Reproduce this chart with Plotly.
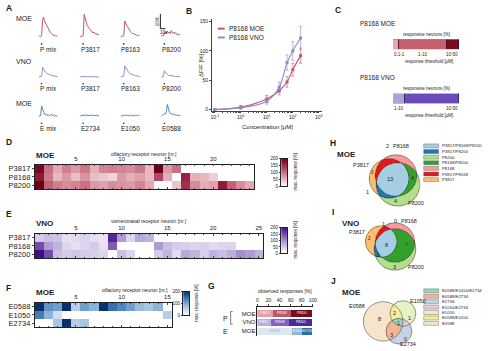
import numpy as np
import plotly.graph_objects as go

W, H = 500, 351
FONT = "Liberation Sans, Arial, sans-serif"
INK = "#222222"

# ======================= DATA =======================
# A: calcium imaging traces, dF/F [%], one sample every 2 s
sample_s = 2
a_moe_p_names = ["P mix", "P3817", "P8163", "P8200"]
a_moe_p_mix = [0, 0.3, -0.2, 0.5, 11, 13, 10.5, 9, 7.5, 6, 5, 3.5, 2.5, 1.8, 1.2, 0.8, 1, 0.3, 0.5, 0.2]
a_moe_p3817 = [0, 0.2, 0.1, 0.4, 15, 12.5, 9.5, 7.5, 6.5, 5.5, 4.5, 4, 3, 2.5, 3, 2, 1.5, 2, 1, 1.4]
a_moe_p8163 = [0, 0.3, 0, 0.5, 10.5, 8.5, 7.5, 6.5, 5, 4.5, 3.2, 2.5, 1.8, 2.2, 1.2, 1.4, 0.6, 1, 0.5, 0.8]
a_moe_p8200 = [0, 1, 0.4, 2, 3.2, 1.8, 3.6, 2.4, 3.1, 1.9, 4, 2.8, 2, 3.1, 2.4, 1.5, 2.1, 1, 1.6, 1]
a_vno_p_names = ["P mix", "P3817", "P8163", "P8200"]
a_vno_p_mix = [0, 0.2, 0.1, 0.5, 6.5, 5.2, 3.8, 3.1, 2.6, 2.1, 1.8, 1.5, 1.2, 1, 0.8, 0.6, 0.5, 0.4, 0.3, 0.2]
a_vno_p3817 = [0, 0.2, 0.1, 0.3, 0.2, 0.4, 0.3, 0.1, 0.2, 0.3, 0.1, 0.2, 0, 0.2, 0.1, 0.3, 0, 0.1, 0.2, 0]
a_vno_p8163 = [0, 0.1, 0.2, 0.5, 7.5, 6.2, 4.6, 3.6, 3, 2.5, 2.1, 1.8, 1.5, 1.2, 1, 0.8, 0.6, 0.5, 0.4, 0.3]
a_vno_p8200 = [0, 0.1, 0.3, 4.2, 3.1, 2.2, 1.6, 1.2, 1, 0.8, 0.6, 0.5, 0.5, 0.4, 0.3, 0.3, 0.2, 0.2, 0.1, 0.1]
a_moe_e_names = ["E mix", "E2734", "E1050", "E0588"]
a_moe_e_mix = [0, 0.3, 0.5, 7, 4.2, 3, 1.5, 1, 1.6, 0.5, 1, 0.3, 1, 1.5, 0.5, 0.8, 0.3, 0.5, 0.2, 0.4]
a_moe_e2734 = [0, 0.8, 0.2, 1, 0.5, 1.2, 0.3, 0.8, 1, 0.2, 0.9, 0.5, 1.1, 0.4, 0.8, 0.3, 1, 0.6, 0.2, 0.7]
a_moe_e1050 = [0, 0.6, 0.3, 0.9, 0.4, 1, 0.5, 0.7, 0.2, 0.9, 0.4, 1, 0.3, 0.6, 0.8, 0.3, 0.7, 0.4, 0.9, 0.5]
a_moe_e0588 = [0, 0.5, 1, 2, 1.5, 3, 8, 5, 3, 2, 1.5, 2, 1, 1.5, 0.8, 1, 0.5, 0.7, 0.4, 0.5]

# B: dose-response of P8168
b_conc_um = [0.1, 1, 10, 30, 60, 100, 200]
b_moe_mean = [0, 4, 18, 32, 47, 68, 92]
b_moe_sem = [1, 3, 6, 7, 9, 11, 13]
b_vno_mean = [0, 3, 14, 38, 80, 100, 122]
b_vno_sem = [1, 2, 5, 9, 13, 16, 20]
b_ticks = [0.1, 1, 10, 100, 1000]
b_ticktext = ["10<sup>-1</sup>", "10<sup>0</sup>", "10<sup>1</sup>", "10<sup>2</sup>", "10<sup>3</sup>"]

# C: response thresholds (responsive neurons %)
c_moe_bins = ["0.1-1", "1-10", "10-50"]
c_moe_pct = [9, 72, 19]
c_vno_bins = ["1-10", "10-50"]
c_vno_pct = [18, 82]

# D: MOE, max response [%] per olfactory receptor neuron (None = no response)
d_rows = ["P3817", "P8168", "P8200"]
d_p3817 = [190, 100, 60, 90, 70, 95, 55, 85, 90, 85, 80, 95, 50, 200, 70, 100, None, None, None, None, None, None, None, None]
d_p8168 = [170, 95, 50, 70, 45, 75, 45, 40, 30, 70, 55, 65, 50, 130, 55, None, 160, 55, 50, 35, None, None, None, None]
d_p8200 = [200, 110, 90, 80, 85, 100, 70, 65, 80, 75, 70, 85, 60, None, None, 40, 150, 80, 55, 65, 170, 110, 80, 60]

# E: VNO
e_rows = ["P3817", "P8168", "P8200"]
e_p3817 = [50, 60, 55, 30, 35, 40, 30, 25, 180, 90, 40, 80, 70, None, None, None, None, None, None, None, None, None, None, None, None]
e_p8168 = [150, 90, 70, 40, 30, 40, 50, 30, 140, None, None, None, None, 90, 60, 50, 45, 40, 45, 35, 40, 40, None, None, None]
e_p8200 = [220, 150, 60, 50, 55, 50, 45, 40, None, 60, 40, None, None, 50, 70, 35, 80, 70, 45, 70, 60, 75, 100, 90, 70]

# F: MOE, E-odorants
f_rows = ["E0588", "E1050", "E2734"]
f_e0588 = [200, 120, 110, 220, 60, 110, 90, 200, 150, 130, 110, 80, 70, 90, None]
f_e1050 = [140, 90, 40, None, None, None, None, None, None, None, None, None, None, None, 60]
f_e2734 = [None, None, 70, 230, 60, 70, None, None, None, None, None, None, None, None, None]

# G row labels
g_rows = ["MOE", "VNO", "MOE"]

# H / J legend colours by region code (bit1 = set A, bit2 = set B, bit4 = set C)
paired = {7: "#a6cee3", 5: "#1f78b4", 4: "#b2df8a", 6: "#33a02c", 2: "#fb9a99", 3: "#e31a1c", 1: "#fdbf6f"}
set3 = {7: "#96d4bf", 5: "#f5b492", 4: "#c4d4e7", 6: "#efc4de", 2: "#e4f2c6", 3: "#f6ee9e", 1: "#f6e4cc"}
legend_order = [7, 5, 4, 6, 2, 3, 1]

# ======================= HELPERS =======================
traces, annotations, shapes = [], [], []
layout = dict(width=W, height=H, margin=dict(l=0, r=0, t=0, b=0), paper_bgcolor="white",
              plot_bgcolor="rgba(0,0,0,0)", showlegend=False, barmode="stack", bargap=0,
              font=dict(family=FONT, size=6, color=INK))
AX_OFF = dict(showgrid=False, zeroline=False, showticklabels=False, ticks="", showline=False, fixedrange=True)
_n = [0]


def new_axes(x0, x1, y0, y1, xo=None, yo=None):
    _n[0] += 1
    n = _n[0]
    xr = "x" if n == 1 else f"x{n}"
    yr = "y" if n == 1 else f"y{n}"
    xa = dict(AX_OFF); xa.update(domain=[x0 / W, x1 / W], anchor=yr); xa.update(xo or {})
    ya = dict(AX_OFF); ya.update(domain=[1 - y1 / H, 1 - y0 / H], anchor=xr); ya.update(yo or {})
    layout["xaxis" if n == 1 else f"xaxis{n}"] = xa
    layout["yaxis" if n == 1 else f"yaxis{n}"] = ya
    return xr, yr


def txt(px, py, s, size=6, color=INK, xa="center", ya="middle", bold=False, angle=0):
    annotations.append(dict(x=px / W, y=1 - py / H, xref="paper", yref="paper",
                            text=f"<b>{s}</b>" if bold else s, showarrow=False,
                            font=dict(size=size, color=color, family=FONT),
                            xanchor=xa, yanchor=ya, textangle=angle, borderpad=0))


def pline(x0, y0, x1, y1, color=INK, w=0.7):
    shapes.append(dict(type="line", xref="paper", yref="paper", x0=x0 / W, x1=x1 / W,
                       y0=1 - y0 / H, y1=1 - y1 / H, line=dict(color=color, width=w)))


# panel letters
for L, px, py in [("A", 4, 6), ("B", 186, 9), ("C", 336, 8), ("D", 4, 142), ("E", 4, 215),
                  ("F", 4, 290), ("G", 208, 288), ("H", 331, 143), ("I", 333, 213), ("J", 332, 283)]:
    txt(px, py, L, size=8.5, bold=True, xa="left")

# ======================= PANEL A =======================
px_per_s = 0.5
col_start_px = [38, 80, 121, 162]
col_off_s = [(p - 38) / px_per_s for p in col_start_px]
rowsA = [
    (a_moe_p_names, [a_moe_p_mix, a_moe_p3817, a_moe_p8163, a_moe_p8200], "#b4475a", 6, 38, [-2, 19.33], 48, 42.5, "MOE", 17),
    (a_vno_p_names, [a_vno_p_mix, a_vno_p3817, a_vno_p8163, a_vno_p8200], "#8b82c2", 55, 80, [-2.67, 14], 88, 83, "VNO", 60),
    (a_moe_e_names, [a_moe_e_mix, a_moe_e2734, a_moe_e1050, a_moe_e0588], "#3c7db0", 100, 120, [-2.67, 10.67], 128, 123, "MOE", 103),
]
for ri, (names, series, color, top, bot, yrng, lab_y, dot_y, rlab, rlab_y) in enumerate(rowsA):
    xr, yr = new_axes(38, 183, top, bot, dict(range=[0, 290]), dict(range=yrng))
    for k, s in enumerate(series):
        tt = [col_off_s[k] + i * sample_s for i in range(len(s))]
        traces.append(go.Scatter(x=tt, y=s, xaxis=xr, yaxis=yr, mode="lines", hoverinfo="skip",
                                 line=dict(color=color, width=0.9), cliponaxis=False))
        cx = col_start_px[k]
        txt(cx + 10, lab_y, names[k], size=6.5)
        shapes.append(dict(type="circle", xref="paper", yref="paper", x0=(cx + 2.2) / W, x1=(cx + 3.8) / W,
                           y0=1 - (dot_y + 0.8) / H, y1=1 - (dot_y - 0.8) / H, fillcolor=INK, line=dict(width=0)))
    txt(23, rlab_y, rlab, size=7)
    if ri == 0:
        sb_x = col_off_s[3] - 2
        traces.append(go.Scatter(x=[sb_x, sb_x, sb_x + 10], y=[15.3, 5.3, 5.3], xaxis=xr, yaxis=yr, mode="lines",
                                 line=dict(color=INK, width=1), hoverinfo="skip", cliponaxis=False))
        txt(38 + sb_x * px_per_s - 3, 20, "10%", size=4.5, angle=-90)
        txt(38 + (sb_x + 5) * px_per_s + 1, 30.5, "10s", size=4.5)

# ======================= PANEL B =======================
red_b, pur_b = "#c4566c", "#8f88cc"
xr, yr = new_axes(213, 324, 17, 110.2,
                  dict(type="log", range=[-1.114, 3.114], tickvals=b_ticks, ticktext=b_ticktext, showticklabels=True,
                       ticks="outside", ticklen=2, tickwidth=0.6, showline=True, linecolor="#444", linewidth=0.6,
                       tickfont=dict(size=5), minor=dict(ticks="outside", ticklen=1.2, dtick="D1", tickwidth=0.4)),
                  dict(range=[-2, 155], tickvals=[0, 50, 100, 150], showticklabels=True, ticks="outside", ticklen=2,
                       tickwidth=0.6, showline=True, linecolor="#444", linewidth=0.6, tickfont=dict(size=5)))
for mean, sem, col in [(b_moe_mean, b_moe_sem, red_b), (b_vno_mean, b_vno_sem, pur_b)]:
    traces.append(go.Scatter(x=b_conc_um, y=mean, xaxis=xr, yaxis=yr, mode="lines+markers",
                             line=dict(color=col, width=1.1, shape="spline", smoothing=1.0),
                             marker=dict(color=col, size=3, symbol="square"),
                             error_y=dict(type="data", array=sem, color=col, thickness=0.6, width=1.5),
                             hoverinfo="skip", cliponaxis=False))
txt(202, 64, "ΔF/F [%]", size=6, angle=-90)
txt(269, 127, "Concentration [μM]", size=6)
for i, (lab, col) in enumerate([("P8168 MOE", red_b), ("P8168 VNO", pur_b)]):
    yy = 27 + i * 9
    pline(219, yy, 226, yy, col, 2)
    txt(229, yy, lab, size=6.5, xa="left")

# ======================= PANEL C =======================
def cbar_row(top, title, bins, pct, colors, edge):
    txt(362, top - 16, title, size=6.5, xa="left")
    txt(430, top - 5, "responsive neurons [%]", size=4.5)
    xr, yr = new_axes(396, 463, top, top + 10, dict(range=[0, 100]), dict(range=[-0.5, 0.5]))
    cum = 0
    for i, (b, p) in enumerate(zip(bins, pct)):
        traces.append(go.Bar(x=[p], y=[0], orientation="h", xaxis=xr, yaxis=yr, width=1,
                             marker=dict(color=colors[i], line=dict(color=edge, width=0.6)), hoverinfo="skip"))
        if i == 0:
            txt(396, top + 15, b, size=4.5, xa="left")
        elif i == len(bins) - 1:
            txt(463, top + 15, b, size=4.5, xa="right")
        else:
            txt(396 + (cum + p / 2) * 0.67, top + 15, b, size=4.5)
        cum += p
    txt(432, top + 22, "response threshold [μM]", size=4.5)


cbar_row(38, "P8168 MOE", c_moe_bins, c_moe_pct, ["#eda3ac", "#c4606f", "#7c0b1d"], "#3a0010")
cbar_row(93, "P8168 VNO", c_vno_bins, c_vno_pct, ["#aaa3d9", "#6a4bb9"], "#24104f")

# ======================= PANELS D, E, F =======================
red_cs = [[0, "#ffffff"], [0.15, "#f3d3d9"], [0.35, "#dc9aa8"], [0.55, "#c06377"], [0.8, "#99233f"], [1, "#6b0019"]]
pur_cs = [[0, "#ffffff"], [0.15, "#e6e0f2"], [0.35, "#c1b3df"], [0.55, "#9b82c8"], [0.8, "#6a3fa8"], [1, "#3d0f80"]]
blu_cs = [[0, "#ffffff"], [0.15, "#dde8f3"], [0.35, "#a9c6e2"], [0.55, "#6e9fcd"], [0.8, "#2b64a5"], [1, "#0b2f6b"]]


def heat(x0, x1, y0, y1, rows, labels, cs, tickvals, tag, title, title_pos, cb, cb_ticks, tag_y):
    ncol = len(rows[0])
    xr, yr = new_axes(x0, x1, y0, y1,
                      dict(range=[0.5, ncol + 0.5], side="top", tickvals=tickvals, showticklabels=True,
                           ticks="inside", ticklen=2, tickwidth=0.5, showline=True, mirror="ticks",
                           linecolor=INK, linewidth=0.7, tickfont=dict(size=6),
                           minor=dict(ticks="inside", ticklen=1.5, dtick=1, tick0=0, tickwidth=0.4)),
                      dict(range=[2.5, -0.5], tickvals=[0, 1, 2], ticktext=labels, showticklabels=True,
                           ticks="outside", ticklen=2, tickwidth=0.5, showline=True, mirror=True,
                           linecolor=INK, linewidth=0.7, tickfont=dict(size=7.5)))
    traces.append(go.Heatmap(z=rows, x=list(range(1, ncol + 1)), y=[0, 1, 2], colorscale=cs, zmin=0, zmax=200,
                             showscale=False, xaxis=xr, yaxis=yr, hoverinfo="skip"))
    txt(34, tag_y, tag, size=8, bold=True, xa="left")
    txt(title_pos[0], title_pos[1], title, size=5, xa=title_pos[2])
    cx0, cx1, cy0, cy1, tx = cb
    grad = list(np.linspace(0, 200, 81))
    xr2, yr2 = new_axes(cx0, cx1, cy0, cy1, dict(range=[-0.5, 0.5], showline=True, mirror=True, linecolor=INK, linewidth=0.5),
                        dict(range=[0, 200], tickvals=cb_ticks, showticklabels=True, ticks="outside", ticklen=1.5,
                             tickwidth=0.5, showline=True, mirror=True, linecolor=INK, linewidth=0.5,
                             tickfont=dict(size=4.5)))
    traces.append(go.Heatmap(z=[[v] for v in grad], x=[0], y=grad, colorscale=cs, zmin=0, zmax=200,
                             showscale=False, xaxis=xr2, yaxis=yr2, hoverinfo="skip"))
    txt(tx, (cy0 + cy1) / 2, "max. response [%]", size=4.5, angle=-90)


heat(34, 256, 165, 190, [d_p3817, d_p8168, d_p8200], d_rows, red_cs, [5, 10, 15, 20], "MOE",
     "olfactory receptor neuron [nr.]", (110, 154, "left"), (283, 289, 159, 187, 298), [0, 50, 100, 150, 200], 156)
heat(34, 265, 235, 260, [e_p3817, e_p8168, e_p8200], e_rows, pur_cs, [5, 10, 15, 20, 25], "VNO",
     "vomeronasal receptor neuron [nr.]", (110, 222, "left"), (283, 289, 229, 255, 298), [0, 50, 100, 150, 200], 225)
heat(34, 172.75, 305, 330, [f_e0588, f_e1050, f_e2734], f_rows, blu_cs, [5, 10, 15], "MOE",
     "olfactory receptor neuron [nr.]", (170, 292, "right"), (184, 190, 294, 318, 198), [0, 100, 200], 295)


# ======================= VENN COUNTS (from heatmaps) =======================
def region_counts(rows):
    cnt = {k: 0 for k in range(1, 8)}
    for col in zip(*rows):
        code = sum(1 << i for i, v in enumerate(col) if v is not None)
        if code:
            cnt[code] += 1
    return cnt


def set_sizes(rows):
    return [sum(v is not None for v in r) for r in rows]


# ======================= PANEL G =======================
g_sets = [(d_rows, set_sizes([d_p3817, d_p8168, d_p8200]), ["#e4a0aa", "#b9586a", "#7a0c20"]),
          (e_rows, set_sizes([e_p3817, e_p8168, e_p8200]), ["#b8b0e0", "#7f62c2", "#4d2a95"]),
          (f_rows, set_sizes([f_e0588, f_e1050, f_e2734]), ["#dbe7f3", "#8fb7da", "#2e6aa8"])]
G_X0, G_X1, G_ROW_Y = 259, 315, [316, 325, 334]
xr, yr = new_axes(G_X0, G_X1, 309, 339,
                  dict(range=[0, 100], side="top", tickvals=[0, 20, 40, 60, 80, 100], showticklabels=True,
                       ticks="outside", ticklen=1.5, tickwidth=0.5, showline=True, linecolor=INK, linewidth=0.6,
                       tickfont=dict(size=5)),
                  dict(range=[2.56, -0.78], tickvals=[0, 1, 2], ticktext=g_rows, showticklabels=True,
                       showline=True, linecolor=INK, linewidth=0.6, tickfont=dict(size=6)))
for seg in range(3):
    xs, ys, cols = [], [], []
    for ri, (names, sizes, colors) in enumerate(g_sets):
        xs.append(100 * sizes[seg] / sum(sizes)); ys.append(ri); cols.append(colors[seg])
    traces.append(go.Bar(x=xs, y=ys, orientation="h", xaxis=xr, yaxis=yr, width=0.78,
                         marker=dict(color=cols, line=dict(width=0)), hoverinfo="skip"))
for ri, (names, sizes, colors) in enumerate(g_sets):
    cum = 0
    for seg in range(3):
        p = 100 * sizes[seg] / sum(sizes)
        cxp = G_X0 + (cum + p / 2) / 100 * (G_X1 - G_X0)
        tcol = "#9fb4c8" if (ri == 2 and seg == 0) else "white"
        txt(cxp, G_ROW_Y[ri], names[seg], size=3.3, color=tcol)
        cum += p
txt(287, 293, "observed responses [%]", size=5)
txt(227, 321, "P", size=7)
txt(227, 334, "E", size=7)
pline(232, 314, 232, 327, INK, 0.6)
pline(232, 314, 234, 314, INK, 0.6)
pline(232, 327, 234, 327, INK, 0.6)


# ======================= PANELS H, I, J (Venn) =======================
def venn(box, circles, colors, counts, count_pos, names, name_pos, tag, tag_pos, count_colors=None, small=()):
    x0, x1, y0, y1 = box
    xr, yr = new_axes(x0, x1, y0, y1, dict(range=[x0, x1]), dict(range=[y1, y0]))
    gx = np.arange(x0 + 0.25, x1, 0.5)
    gy = np.arange(y0 + 0.25, y1, 0.5)
    GX, GY = np.meshgrid(gx, gy)
    code = np.zeros(GX.shape, dtype=int)
    for i, (cx, cy, r) in enumerate(circles):
        code += ((GX - cx) ** 2 + (GY - cy) ** 2 <= r * r).astype(int) << i
    z = [[(int(v) if v > 0 else None) for v in row] for row in code]
    cs = []
    for k in range(1, 8):
        cs.append([(k - 1) / 7, colors[k]]); cs.append([k / 7, colors[k]])
    traces.append(go.Heatmap(z=z, x=gx, y=gy, colorscale=cs, zmin=0.5, zmax=7.5, showscale=False,
                             xaxis=xr, yaxis=yr, hoverinfo="skip"))
    for cx, cy, r in circles:
        shapes.append(dict(type="circle", xref=xr, yref=yr, x0=cx - r, x1=cx + r, y0=cy - r, y1=cy + r,
                           line=dict(color="#333333", width=0.5)))
    for k, (px, py) in count_pos.items():
        col = (count_colors or {}).get(k, INK)
        txt(px, py, str(counts[k]), size=4.5 if k in small else 5.5, color=col)
    for nm, (px, py, xa) in zip(names, name_pos):
        txt(px, py, nm, size=5.5, xa=xa)
    txt(tag_pos[0], tag_pos[1], tag, size=8, bold=True, xa="left")


def venn_legend(x, ys, names, colors):
    labels = {7: "/".join(names), 5: f"{names[0]}/{names[2]}", 4: names[2], 6: f"{names[1]}/{names[2]}",
              2: names[1], 3: f"{names[0]}/{names[1]}", 1: names[0]}
    for k, yy in zip(legend_order, ys):
        shapes.append(dict(type="rect", xref="paper", yref="paper", x0=x / W, x1=(x + 15) / W,
                           y0=1 - (yy + 2) / H, y1=1 - (yy - 2) / H, fillcolor=colors[k],
                           line=dict(color="#555555", width=0.4)))
        txt(x + 17, yy, labels[k], size=4.3, xa="left")


h_cnt = region_counts([d_p3817, d_p8168, d_p8200])
venn((355, 426, 140, 215), [(392, 179, 20), (399, 176, 21), (401, 185, 22)], paired, h_cnt,
     {7: (393, 180), 3: (390, 146), 1: (375, 173), 5: (370, 193), 6: (416, 179), 4: (398, 202)},
     d_rows, [(364, 165, "center"), (395, 146, "left"), (410, 204, "left")], "MOE", (338, 155), small=(1,))
venn_legend(427, [146, 151.7, 157.4, 163.1, 168.8, 174.5, 180.2], d_rows, paired)

i_cnt = region_counts([e_p3817, e_p8168, e_p8200])
venn((355, 426, 215, 280), [(384, 243, 16), (398, 244, 20), (398, 251, 21)], paired, i_cnt,
     {7: (389, 247), 3: (386, 225), 2: (398, 222), 6: (410, 246), 4: (397, 269), 1: (372, 240), 5: (381, 257)},
     e_rows, [(360, 233, "center"), (403, 222, "left"), (410, 269, "left")], "VNO", (343, 225),
     count_colors={6: "#1e6b1e"}, small=(1, 5))

j_cnt = region_counts([f_e0588, f_e1050, f_e2734])
venn((355, 426, 295, 351), [(386, 324, 20), (406, 316, 13), (402, 334, 13)], set3, j_cnt,
     {1: (382, 322), 3: (397, 315), 7: (402, 326), 2: (413, 321), 5: (394, 338), 4: (409, 342)},
     f_rows, [(360, 308, "center"), (412, 303, "left"), (402, 347, "left")], "MOE", (343, 295))
venn_legend(427, [293, 298.5, 304, 309.5, 315, 320.5, 326], f_rows, set3)

layout["annotations"] = annotations
layout["shapes"] = shapes
fig = go.Figure(data=traces, layout=layout)
fig.write_html("out.html")
